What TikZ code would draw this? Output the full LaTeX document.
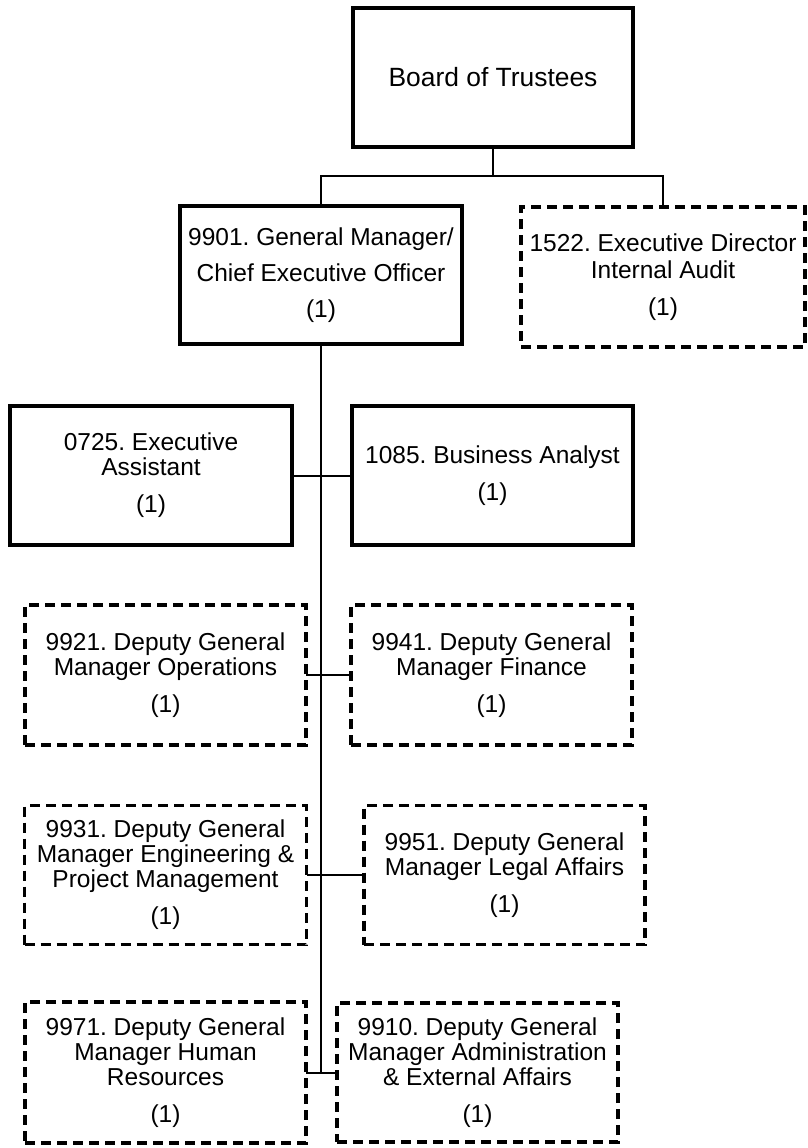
\documentclass[tikz,border=0pt]{standalone}
\usepackage{fontspec}
\setmainfont{Liberation Sans}
\frenchspacing
\begin{document}
\begin{tikzpicture}[x=1pt,y=-1pt,
  unit/.style={draw, line width=3.3pt, inner sep=0pt, outer sep=0pt,
    align=center, font=\fontsize{24.5}{25}\selectfont,
    minimum width=281pt, minimum height=139pt},
  vacant/.style={unit, dash pattern=on 10pt off 6pt},
  link/.style={line width=2pt}]
\useasboundingbox (0,0) rectangle (808,1148);

% governing body and top management
\node[unit, minimum width=280pt, font=\fontsize{26.4}{27}\selectfont] (board) at (493,77.5) {Board of Trustees};
\node[unit, minimum width=282pt, minimum height=138pt] (gm) at (321,275)
  {9901. General Manager/\\[11pt]Chief Executive Officer\\[11pt](1)};
\node[vacant, minimum width=284pt, minimum height=140pt] (audit) at (663,277)
  {1522. Executive Director\\[2pt]Internal Audit\\[12pt](1)};

% office of the general manager
\node[unit, minimum width=282pt] (ea) at (151,475.5)
  {0725. Executive\\Assistant\\[12pt](1)};
\node[unit] (ba) at (492.5,475.5) {1085. Business Analyst\\[12pt](1)};

% deputy general managers
\node[vacant, minimum height=140pt] (dgo) at (165.5,675)
  {9921. Deputy General\\Manager Operations\\[12pt](1)};
\node[vacant, minimum height=140pt] (dgf) at (491.5,675)
  {9941. Deputy General\\Manager Finance\\[12pt](1)};
\node[vacant, minimum width=282pt] (dge) at (165.5,875)
  {9931. Deputy General\\Manager Engineering \&\\Project Management\\[12pt](1)};
\node[vacant, minimum height=139pt] (dgl) at (504.5,875)
  {9951. Deputy General\\Manager Legal Affairs\\[12pt](1)};
\node[vacant, minimum height=141pt] (dgh) at (165.5,1072.5)
  {9971. Deputy General\\Manager Human\\Resources\\[12pt](1)};
\node[vacant, minimum height=139pt] (dga) at (477.5,1072.5)
  {9910. Deputy General\\Manager Administration\\\& External Affairs\\[12pt](1)};

% reporting lines
\draw[link] (board.south) -- ++(0,29) coordinate (fork) -| (gm.north);
\draw[link] (fork) -| (audit.north);
\draw[link] (gm.south) -- (gm.south |- dgh.east);
\draw[link] (ea.east) -- (ba.west);
\draw[link] (dgo.east) -- (dgf.west);
\draw[link] (dge.east) -- (dgl.west);
\draw[link] (dgh.east) -- (dga.west);
\end{tikzpicture}
\end{document}
